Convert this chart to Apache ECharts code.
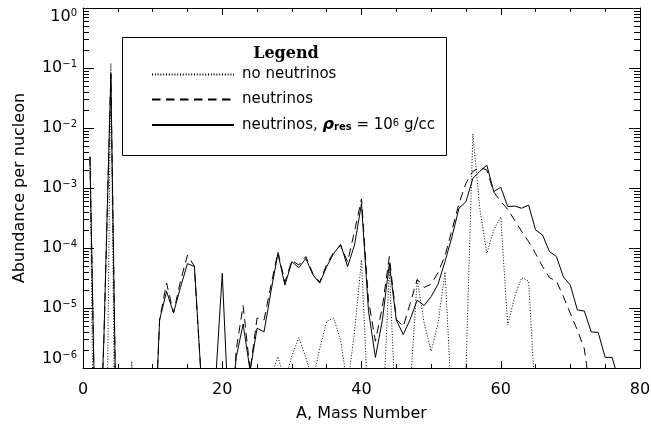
<!DOCTYPE html>
<html>
<head>
<meta charset="utf-8">
<script src="https://cdn.jsdelivr.net/npm/echarts@6/dist/echarts.min.js"></script>
<style>
html,body{margin:0;padding:0;background:#fff;}
#chart{width:651px;height:426px;}
</style>
</head>
<body>
<div id="chart"></div>
<script>
// ---- data ----
const massNumbers = [
  1,2,3,4,5,6,7,8,9,10,11,12,13,14,15,16,17,18,19,20,
  21,22,23,24,25,26,27,28,29,30,31,32,33,34,35,36,37,38,39,40,
  41,42,43,44,45,46,47,48,49,50,51,52,53,54,55,56,57,58,59,60,
  61,62,63,64,65,66,67,68,69,70,71,72,73,74,75,76,77
];
// dotted: no neutrinos
const noNeutrinos = [
  3.3e-3,1e-12,1e-12,1.2e-1,1e-12,1e-12,1.3e-6,1e-12,1e-12,1e-12,
  1e-12,1e-12,1e-12,1e-12,1e-12,1e-12,1e-12,1e-12,1e-12,1e-12,
  1e-12,1e-12,1e-12,1e-12,1e-12,1e-12,7e-7,1.55e-6,6e-7,1.6e-6,
  3.2e-6,1.5e-6,6e-7,2.1e-6,6e-6,6.8e-6,2.9e-6,5e-7,4e-6,6.3e-5,
  1.7e-7,1e-9,1e-7,4.6e-5,1e-7,1e-9,4.6e-7,3e-5,5.6e-6,1.9e-6,
  5.6e-6,4e-5,2e-7,1e-9,9e-7,8e-3,4.5e-4,8.1e-5,2e-4,3.3e-4,
  5.2e-6,1.55e-5,3.2e-5,2.8e-5,2.5e-7,1e-9,1e-9,1e-9,1e-9,1e-9,
  1e-9,1e-9,1e-9,1e-9,1e-9,1e-9,1e-9
];
// dashed: neutrinos
const neutrinos = [
  3.3e-3,2e-9,3e-6,8e-2,1e-9,1e-9,1e-9,1e-9,1e-9,1e-8,
  6.3e-6,2.6e-5,8.3e-6,2.8e-5,7.6e-5,5e-5,6e-7,1e-9,1e-9,1e-9,
  1e-8,2e-6,1.1e-5,9e-7,6.8e-6,6.3e-6,2.4e-5,8.6e-5,2.7e-5,6.2e-5,
  5.2e-5,7.2e-5,3.8e-5,2.7e-5,5.3e-5,8.5e-5,1.1e-4,5.9e-5,1.9e-4,6.6e-4,
  1.35e-5,2.8e-6,1.05e-5,7.2e-5,6.5e-6,4.9e-6,1.2e-5,3e-5,2.2e-5,2.5e-5,
  3.9e-5,7.5e-5,2e-4,5.5e-4,1.2e-3,1.9e-3,2.2e-3,2.0e-3,8.5e-4,6e-4,
  4.4e-4,2.9e-4,1.9e-4,1.28e-4,8.1e-5,4.9e-5,3.2e-5,2.8e-5,1.55e-5,8.1e-6,
  4.3e-6,2.1e-6,3e-7,1e-9,1e-9,1e-9,1e-9
];
// solid: neutrinos, rho_res = 10^6 g/cc
const neutrinosRes = [
  3.3e-3,2e-9,3e-6,8e-2,1e-9,1e-9,1e-9,1e-9,1e-9,1e-8,
  6.3e-6,1.9e-5,8.3e-6,2.2e-5,5.5e-5,4.9e-5,6e-7,1e-9,5e-7,3.8e-5,
  1e-7,1.5e-6,5.4e-6,9e-7,4.6e-6,4.0e-6,1.9e-5,8.1e-5,2.4e-5,5.9e-5,
  4.7e-5,6.7e-5,3.6e-5,2.6e-5,4.9e-5,8.1e-5,1.15e-4,4.9e-5,1.12e-4,5.5e-4,
  9e-6,1.5e-6,6.3e-6,5.5e-5,6.3e-6,3.6e-6,6.5e-6,1.35e-5,1.1e-5,1.55e-5,
  2.5e-5,6e-5,1.55e-4,4.6e-4,5.9e-4,1.45e-3,1.9e-3,2.4e-3,8.7e-4,1.03e-3,
  4.9e-4,5.0e-4,4.6e-4,5.2e-4,2.0e-4,1.65e-4,8.7e-5,7.2e-5,3.3e-5,2.4e-5,
  9.3e-6,8.9e-6,4.0e-6,3.9e-6,1.5e-6,1.5e-6,5.9e-7
];
const seriesNames = ['no neutrinos', 'neutrinos', 'neutrinos, ρres = 10^6 g/cc'];
const xAxisRange = [0, 80];
const xTickStep = 20;
const yAxisRange = [1e-6, 1];
const yMinorMantissas = [2,3,4,5,6,7,8,9];
const yDecadeExponents = [-6,-5,-4,-3,-2,-1];

// ---- chart ----
const FONT = 'DejaVu Sans';
const yMinorTickValues = [];
yDecadeExponents.forEach(e => yMinorMantissas.forEach(m => yMinorTickValues.push(m * Math.pow(10, e))));
const toPairs = arr => massNumbers.map((a, i) => [a, arr[i]]);

const chart = echarts.init(document.getElementById('chart'), null, {renderer: 'canvas'});
const axisLine = {show: true, onZero: false, lineStyle: {color: '#000', width: 1}};
const xBase = {
  type: 'value', min: xAxisRange[0], max: xAxisRange[1], interval: xTickStep,
  axisLine: axisLine,
  axisTick: {show: true, inside: true, length: 7, lineStyle: {color: '#000', width: 1}},
  minorTick: {show: true, splitNumber: 4, length: 4, lineStyle: {color: '#000', width: 1}},
  splitLine: {show: false}, minorSplitLine: {show: false}
};
const yBase = {
  type: 'log', logBase: 10, min: yAxisRange[0], max: yAxisRange[1],
  axisLine: axisLine,
  axisTick: {show: true, inside: true, length: 11, lineStyle: {color: '#000', width: 1}},
  minorTick: {show: false},
  splitLine: {show: false}, minorSplitLine: {show: false}
};
const lineCommon = {type: 'line', symbol: 'none', showSymbol: false, clip: true, silent: true, z: 2, itemStyle: {color: '#000'}};

const option = {
  animation: false,
  backgroundColor: '#fff',
  textStyle: {fontFamily: FONT, color: '#000'},
  grid: {left: 83, right: 11, top: 8, bottom: 58, containLabel: false, outerBoundsMode: 'none'},
  xAxis: [
    Object.assign({}, xBase, {
      position: 'bottom',
      name: 'A, Mass Number', nameLocation: 'middle', nameGap: 38, nameMoveOverlap: false,
      nameTextStyle: {fontSize: 16, color: '#000', fontFamily: FONT},
      axisLabel: {fontSize: 16, color: '#000', margin: 14, fontFamily: FONT}
    }),
    Object.assign({}, xBase, {position: 'top', axisLabel: {show: false}})
  ],
  yAxis: [
    Object.assign({}, yBase, {
      position: 'left',
      name: 'Abundance per nucleon', nameLocation: 'middle', nameGap: 55, nameMoveOverlap: false,
      nameTextStyle: {fontSize: 16, color: '#000', fontFamily: FONT},
      axisLabel: {
        margin: 6, color: '#000', fontFamily: FONT,
        verticalAlignMinLabel: 'bottom', verticalAlignMaxLabel: 'top',
        formatter: function (v) {
          const e = Math.round(Math.log10(v));
          return '{b|10}{s|' + (e === 0 ? '0' : '\u2212' + (-e)) + '}';
        },
        rich: {
          b: {fontSize: 16, lineHeight: 18, fontFamily: FONT, color: '#000'},
          s: {fontSize: 10, lineHeight: 10, verticalAlign: 'top', fontFamily: FONT, color: '#000'}
        }
      }
    }),
    Object.assign({}, yBase, {position: 'right', axisLabel: {show: false}})
  ],
  legend: {
    data: seriesNames,
    orient: 'vertical', left: 146, top: 62,
    itemWidth: 82, itemHeight: 14, itemGap: 10,
    selectedMode: false,
    itemStyle: {opacity: 0, borderWidth: 0},
    formatter: function (name) {
      if (name === seriesNames[2]) {
        return '{t|neutrinos, }{rho|\u03C1}{sub|res}{t| = 10}{sup|6}{t| g/cc}';
      }
      return '{t|' + name + '}';
    },
    textStyle: {
      color: '#000', fontFamily: FONT, fontSize: 15, lineHeight: 14, padding: [0, 0, 0, 3],
      rich: {
        t: {fontSize: 15, lineHeight: 14, fontFamily: FONT, color: '#000'},
        rho: {fontSize: 16, lineHeight: 14, fontWeight: 'bold', fontStyle: 'italic', fontFamily: FONT, color: '#000'},
        sub: {fontSize: 10, lineHeight: 9, verticalAlign: 'bottom', fontWeight: 'bold', fontFamily: FONT, color: '#000'},
        sup: {fontSize: 10, lineHeight: 9, verticalAlign: 'top', fontFamily: FONT, color: '#000'}
      }
    }
  },
  graphic: [
    {type: 'rect', z: 1, shape: {x: 122.5, y: 37.5, width: 324, height: 118},
     style: {fill: 'none', stroke: '#000', lineWidth: 1}},
    {type: 'text', z: 5, x: 286, y: 54,
     style: {text: 'Legend', font: 'bold 16px "DejaVu Serif"', fill: '#000',
             align: 'center', verticalAlign: 'middle', textAlign: 'center', textVerticalAlign: 'middle'}}
  ],
  series: [
    Object.assign({}, lineCommon, {name: seriesNames[0], data: toPairs(noNeutrinos),
      lineStyle: {color: '#000', width: 1, type: [1, 1.8]}}),
    Object.assign({}, lineCommon, {name: seriesNames[1], data: toPairs(neutrinos),
      lineStyle: {color: '#000', width: 1, type: [8.5, 5.5]}}),
    Object.assign({}, lineCommon, {name: seriesNames[2], data: toPairs(neutrinosRes),
      lineStyle: {color: '#000', width: 1, type: 'solid'}}),
    {
      type: 'custom', name: 'yMinorTicks', silent: true, clip: false, z: 3,
      xAxisIndex: 0, yAxisIndex: 0,
      data: yMinorTickValues.map(v => [xAxisRange[0], v]),
      encode: {x: 0, y: 1},
      renderItem: function (params, api) {
        const v = api.value(1);
        const l = api.coord([xAxisRange[0], v]);
        const r = api.coord([xAxisRange[1], v]);
        const y = Math.round(l[1]) + 0.5;
        return {type: 'group', children: [
          {type: 'line', shape: {x1: l[0], y1: y, x2: l[0] + 6, y2: y}, style: {stroke: '#000', lineWidth: 1}},
          {type: 'line', shape: {x1: r[0] - 6, y1: y, x2: r[0], y2: y}, style: {stroke: '#000', lineWidth: 1}}
        ]};
      }
    }
  ]
};
chart.setOption(option);
</script>
</body>
</html>
